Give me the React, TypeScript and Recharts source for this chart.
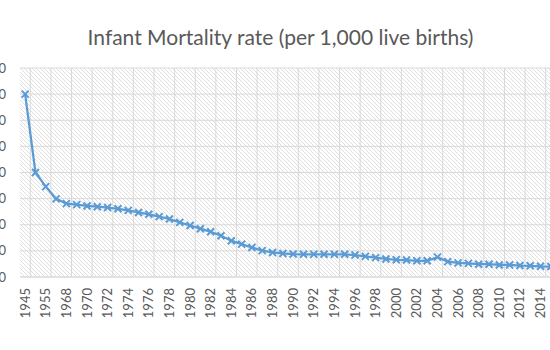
import React from "react";
import { CartesianGrid, Line, LineChart, XAxis, YAxis } from "recharts";

const years = [
  "1945", "1950", "1955", "1965", "1968", "1969", "1970", "1971", "1972", "1973",
  "1974", "1975", "1976", "1977", "1978", "1979", "1980", "1981", "1982", "1983",
  "1984", "1985", "1986", "1987", "1988", "1989", "1990", "1991", "1992", "1993",
  "1994", "1995", "1996", "1997", "1998", "1999", "2000", "2001", "2002", "2003",
  "2004", "2005", "2006", "2007", "2008", "2009", "2010", "2011", "2012", "2013",
  "2014", "2015",
];

const rates = [
  70, 40, 34.6, 29.9, 28.1, 27.7, 27.2, 26.9, 26.6, 26.1,
  25.5, 24.7, 24.0, 23.1, 22.2, 20.9, 19.7, 18.5, 17.3, 15.8,
  13.9, 12.6, 11.3, 10.1, 9.4, 9.0, 8.8, 8.7, 8.7, 8.7,
  8.7, 8.7, 8.4, 7.9, 7.4, 6.9, 6.6, 6.5, 6.2, 6.2,
  7.6, 5.9, 5.4, 5.2, 4.9, 4.9, 4.6, 4.6, 4.4, 4.3,
  4.1, 4.0,
];

const yTicks = [0, 10, 20, 30, 40, 50, 60, 70, 80];

const chartData = years.map((year, i) => ({ year, rate: rates[i] }));

const FONT = "Lato, 'Liberation Sans', sans-serif";
const TEXT = "#595959";
const BLUE = "#5B9BD5";
const GRID = "#d9d9d9";

function YearTick({ x, y, payload }: any) {
  return (
    <text
      x={x}
      y={y + 3}
      transform={`rotate(-90, ${x}, ${y + 3})`}
      textAnchor="end"
      dy="0.35em"
      fill={TEXT}
      fontSize={13}
      fontFamily={FONT}
    >
      {payload.value}
    </text>
  );
}

function CrossDot({ cx, cy, index }: any) {
  const s = 3.5;
  return (
    <path
      key={index}
      d={`M${cx - s},${cy - s}L${cx + s},${cy + s}M${cx - s},${cy + s}L${cx + s},${cy - s}`}
      stroke={BLUE}
      strokeWidth={2}
      fill="none"
    />
  );
}

// vertical grid lines between every other category
const betweenBands = ({ offset }: any) => {
  const band = offset.width / years.length;
  const out: number[] = [];
  for (let k = 1; k < years.length; k += 2) out.push(offset.left + band * k);
  return out;
};

export default function App() {
  return (
    <div
      style={{
        position: "absolute",
        left: 0,
        top: 0,
        width: 550,
        height: 350,
        overflow: "hidden",
        background: "#fff",
        fontFamily: FONT,
      }}
    >
      <div
        style={{
          position: "absolute",
          left: 0,
          top: 24,
          width: 561,
          textAlign: "center",
          fontSize: 21,
          color: TEXT,
          lineHeight: "26px",
        }}
      >
        Infant Mortality rate (per 1,000 live births)
      </div>
      <div style={{ position: "absolute", left: -20, top: 0 }}>
        <LineChart
          width={586}
          height={350}
          data={chartData}
          margin={{ top: 68, right: 10, bottom: 13, left: 0 }}
        >
          <defs>
            <pattern id="hatch" patternUnits="userSpaceOnUse" width="4" height="4">
              <rect width="4" height="4" fill="#fff" />
              <path d="M-1,3 l2,2 M0,0 l4,4 M3,-1 l2,2" stroke="#e0e0e0" strokeWidth={1} />
            </pattern>
          </defs>
          <CartesianGrid
            fill="url(#hatch)"
            fillOpacity={1}
            stroke={GRID}
            verticalCoordinatesGenerator={betweenBands}
          />
          <XAxis
            dataKey="year"
            scale="band"
            interval={1}
            height={60}
            tickLine={false}
            axisLine={{ stroke: GRID }}
            tick={<YearTick />}
          />
          <YAxis
            domain={[0, 80]}
            ticks={yTicks}
            width={40}
            tickLine={false}
            axisLine={false}
            tickSize={6}
            tickMargin={8}
            tick={{ fill: TEXT, fontSize: 13, fontFamily: FONT }}
          />
          <Line
            type="linear"
            dataKey="rate"
            stroke={BLUE}
            strokeWidth={2.25}
            dot={<CrossDot />}
            activeDot={false}
            isAnimationActive={false}
          />
        </LineChart>
      </div>
    </div>
  );
}
